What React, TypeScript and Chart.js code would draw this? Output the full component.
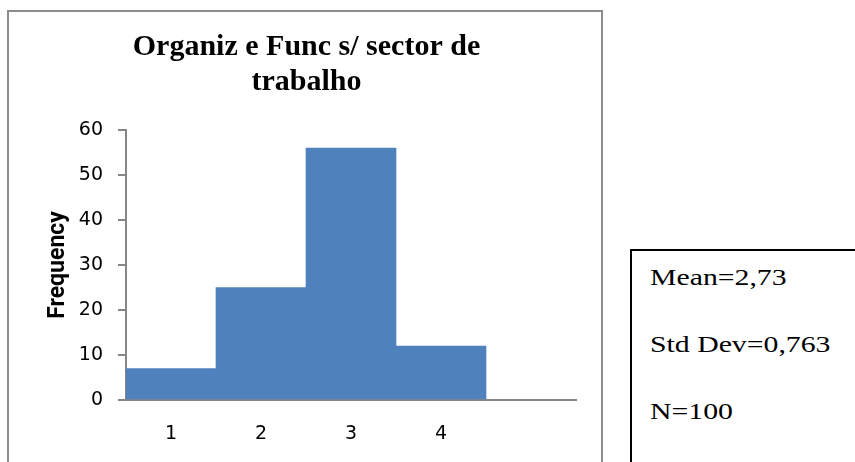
import React, { useEffect, useRef } from 'react';
import { Chart, registerables } from 'chart.js';

Chart.register(...registerables);

const categories: string[] = ['1', '2', '3', '4', ''];
const frequencies: (number | null)[] = [7, 25, 56, 12, null];
const yMin = 0;
const yMax = 60;
const yStep = 10;
const titleLines: string[] = ['Organiz e Func s/ sector de', 'trabalho'];
const yAxisTitle = 'Frequency';
const statsLines: string[] = ['Mean=2,73', 'Std Dev=0,763', 'N=100'];

export default function App() {
  const ref = useRef<HTMLCanvasElement>(null);

  useEffect(() => {
    const canvas = ref.current;
    if (!canvas) return;
    const chart = new Chart(canvas, {
      type: 'bar',
      data: {
        labels: categories,
        datasets: [
          {
            data: frequencies,
            backgroundColor: '#4f81bd',
            borderWidth: 0,
            barPercentage: 1,
            categoryPercentage: 1,
          },
        ],
      },
      options: {
        animation: false,
        responsive: true,
        maintainAspectRatio: false,
        devicePixelRatio: 1,
        layout: { padding: { left: 28, right: 25, top: 0, bottom: 0 } },
        plugins: {
          legend: { display: false },
          tooltip: { enabled: false },
          title: {
            display: true,
            text: titleLines,
            color: '#000000',
            font: { family: '"Liberation Serif", "Times New Roman", serif', size: 30, weight: 'bold', lineHeight: 1.15 },
            padding: { top: 18, bottom: 31 },
          },
        },
        scales: {
          x: {
            type: 'category',
            offset: true,
            grid: { display: false, drawTicks: false },
            border: { display: true, color: '#868686', width: 2 },
            ticks: {
              color: '#000000',
              padding: 23,
              font: { family: '"DejaVu Sans", sans-serif', size: 19 },
              maxRotation: 0,
              autoSkip: false,
            },
            afterFit: (scale: any) => {
              scale.height = 62;
            },
          },
          y: {
            min: yMin,
            max: yMax,
            grid: {
              display: true,
              drawOnChartArea: false,
              drawTicks: true,
              tickLength: 8,
              color: '#868686',
              lineWidth: 2,
            },
            border: { display: true, color: '#868686', width: 2 },
            ticks: {
              stepSize: yStep,
              color: '#000000',
              padding: 15,
              font: { family: '"DejaVu Sans", sans-serif', size: 19 },
            },
            title: {
              display: true,
              text: yAxisTitle,
              color: '#000000',
              font: { family: 'Roboto, sans-serif', size: 23, weight: 'bold', lineHeight: 1.2 },
              padding: { top: 7, bottom: 0 },
            },
            afterFit: (scale: any) => {
              scale.width = 89;
            },
          },
        },
      },
    });
    return () => chart.destroy();
  }, []);

  return (
    <div
      style={{
        position: 'absolute',
        left: 0,
        top: 0,
        width: 855,
        height: 462,
        overflow: 'hidden',
        background: '#ffffff',
      }}
    >
      <div
        style={{
          position: 'absolute',
          left: 7,
          top: 10,
          width: 592,
          height: 480,
          border: '2px solid #8c8c8c',
        }}
      />
      <div style={{ position: 'absolute', left: 9, top: 12, width: 592, height: 450 }}>
        <canvas ref={ref} />
      </div>
      <div
        style={{
          position: 'absolute',
          left: 630,
          top: 249,
          width: 260,
          height: 260,
          border: '2px solid #000000',
          background: '#ffffff',
        }}
      />
      {statsLines.map((s, i) => (
        <div
          key={i}
          style={{
            position: 'absolute',
            left: 650,
            top: 265 + 67 * i,
            fontFamily: '"Liberation Serif", "Times New Roman", serif',
            fontSize: 24,
            lineHeight: '24px',
            color: '#000000',
            whiteSpace: 'nowrap',
            transform: 'scaleX(1.24)',
            transformOrigin: 'left top',
          }}
        >
          {s}
        </div>
      ))}
    </div>
  );
}
